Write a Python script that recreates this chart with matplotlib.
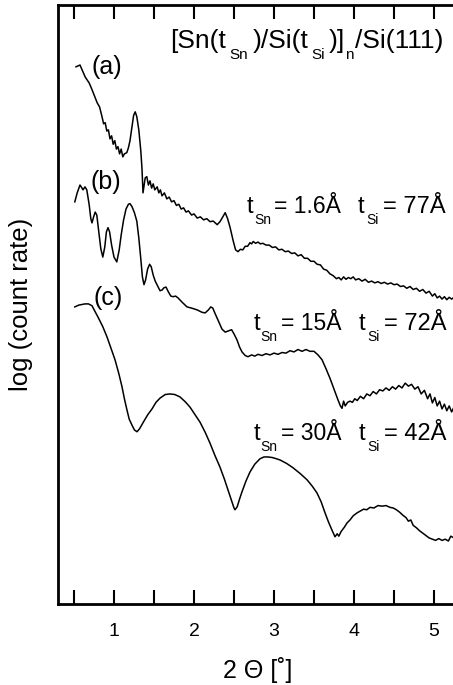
import numpy as np
import matplotlib
matplotlib.use("Agg")
import matplotlib.pyplot as plt
from matplotlib.transforms import offset_copy

plt.rcParams['font.family'] = ['Liberation Sans', 'DejaVu Sans']

# curve (a): tSn = 1.6 A, tSi = 77 A
a_x = [0.525, 0.575, 0.64, 0.69, 0.725, 0.76, 0.79, 0.82, 0.85, 0.87, 0.89, 0.91, 0.93,
       0.95, 0.97, 0.99, 1.01, 1.03, 1.05, 1.07, 1.09, 1.11, 1.13, 1.16, 1.18, 1.20,
       1.225, 1.245, 1.265, 1.285, 1.31, 1.335, 1.35, 1.3625, 1.39, 1.41, 1.43, 1.45,
       1.47, 1.49, 1.51, 1.54, 1.56, 1.58, 1.60, 1.63, 1.66, 1.69, 1.72, 1.75, 1.78,
       1.81, 1.84, 1.87, 1.90, 1.93, 1.97, 2.00, 2.04, 2.08, 2.12, 2.16, 2.20, 2.24,
       2.29, 2.325, 2.36, 2.39, 2.42, 2.45, 2.49, 2.52, 2.55, 2.58, 2.61, 2.64, 2.67,
       2.70, 2.72, 2.74, 2.77, 2.80, 2.83, 2.86, 2.90, 2.94, 2.98, 3.02, 3.06, 3.10,
       3.14, 3.18, 3.22, 3.26, 3.30, 3.34, 3.38, 3.42, 3.46, 3.50, 3.54, 3.58, 3.62,
       3.66, 3.70, 3.74, 3.78, 3.81, 3.84, 3.87, 3.90, 3.93, 3.96, 3.99, 4.02, 4.06,
       4.10, 4.14, 4.18, 4.22, 4.26, 4.30, 4.34, 4.38, 4.42, 4.46, 4.50, 4.54, 4.58,
       4.62, 4.66, 4.70, 4.74, 4.78, 4.82, 4.86, 4.90, 4.94, 4.98, 5.01, 5.04, 5.07,
       5.10, 5.13, 5.16, 5.19, 5.22, 5.25]
a_y = [8.95, 8.98, 8.78, 8.68, 8.57, 8.45, 8.35, 8.28, 8.12, 8.00, 8.02, 7.88, 7.90,
       7.75, 7.80, 7.66, 7.72, 7.58, 7.62, 7.50, 7.58, 7.45, 7.50, 7.52, 7.60, 7.72,
       7.95, 8.14, 8.20, 8.12, 7.90, 7.55, 7.25, 6.85, 7.10, 7.12, 6.98, 7.05,
       6.93, 7.00, 6.90, 6.95, 6.85, 6.90, 6.80, 6.85, 6.75, 6.78, 6.70, 6.72, 6.64,
       6.66, 6.58, 6.60, 6.53, 6.55, 6.48, 6.50, 6.43, 6.45, 6.40, 6.42, 6.37, 6.38,
       6.32, 6.37, 6.45, 6.52, 6.42, 6.28, 6.05, 5.90, 5.87, 5.91, 5.90, 5.96, 5.96,
       6.02, 6.00, 6.04, 6.01, 6.03, 6.00, 6.01, 5.98, 5.98, 5.94, 5.95, 5.90, 5.91,
       5.87, 5.88, 5.84, 5.85, 5.80, 5.82, 5.76, 5.76, 5.71, 5.71, 5.66, 5.65, 5.58,
       5.56, 5.50, 5.47, 5.42, 5.44, 5.40, 5.45, 5.41, 5.44, 5.42, 5.45, 5.40, 5.42,
       5.38, 5.41, 5.36, 5.38, 5.35, 5.37, 5.34, 5.36, 5.33, 5.35, 5.32, 5.33, 5.29,
       5.30, 5.26, 5.29, 5.24, 5.26, 5.21, 5.24, 5.18, 5.21, 5.13, 5.17, 5.10, 5.13,
       5.08, 5.12, 5.07, 5.11, 5.08, 5.11]

# curve (b): tSn = 15 A, tSi = 72 A
b_x = [0.51, 0.54, 0.575, 0.60, 0.6125, 0.6375, 0.66, 0.69, 0.71, 0.725, 0.745, 0.765,
       0.785, 0.81, 0.835, 0.86, 0.885, 0.905, 0.925, 0.945, 0.97, 1.00, 1.035, 1.065,
       1.09, 1.12, 1.15, 1.18, 1.20, 1.225, 1.255, 1.285, 1.31, 1.335, 1.355, 1.375,
       1.395, 1.42, 1.445, 1.465, 1.49, 1.515, 1.545, 1.575, 1.60, 1.625, 1.65, 1.68,
       1.71, 1.74, 1.77, 1.80, 1.85, 1.9125, 1.97, 2.04, 2.10, 2.14, 2.18, 2.21, 2.235,
       2.26, 2.30, 2.35, 2.39, 2.43, 2.47, 2.50, 2.5375, 2.57, 2.60, 2.64, 2.675, 2.72,
       2.76, 2.80, 2.85, 2.90, 2.95, 3.00, 3.05, 3.10, 3.15, 3.20, 3.25, 3.30, 3.35,
       3.40, 3.45, 3.50, 3.55, 3.60, 3.65, 3.70, 3.75, 3.80, 3.83, 3.85, 3.87, 3.89,
       3.92, 3.95, 3.98, 4.01, 4.04, 4.08, 4.12, 4.16, 4.20, 4.24, 4.28, 4.32, 4.36,
       4.40, 4.44, 4.48, 4.52, 4.56, 4.60, 4.64, 4.68, 4.72, 4.76, 4.80, 4.84, 4.88,
       4.92, 4.95, 4.98, 5.01, 5.04, 5.07, 5.10, 5.13, 5.16, 5.19, 5.22, 5.25]
b_y = [6.70, 6.85, 6.98, 6.93, 6.90, 6.95, 6.90, 6.65, 6.42, 6.35, 6.45, 6.53,
       6.48, 6.20, 5.92, 5.78, 5.95, 6.20, 6.27, 6.20, 5.98, 5.78, 5.70, 5.90,
       6.15, 6.40, 6.58, 6.66, 6.67, 6.62, 6.52, 6.38, 6.10, 5.75, 5.45, 5.32,
       5.40, 5.58, 5.66, 5.62, 5.48, 5.38, 5.30, 5.22, 5.23, 5.27, 5.28, 5.20,
       5.13, 5.12, 5.13, 5.10, 5.03, 4.95, 4.93, 4.90, 4.86, 4.85, 4.90, 4.95, 4.93,
       4.85, 4.73, 4.58, 4.53, 4.55, 4.57, 4.50, 4.40, 4.28, 4.20, 4.14, 4.12, 4.15,
       4.13, 4.16, 4.14, 4.17, 4.15, 4.18, 4.16, 4.19, 4.18, 4.22, 4.20, 4.24, 4.21,
       4.24, 4.21, 4.21, 4.15, 4.07, 3.92, 3.76, 3.58, 3.40, 3.30, 3.26, 3.38, 3.30,
       3.36, 3.38, 3.36, 3.42, 3.39, 3.46, 3.42, 3.50, 3.47, 3.54, 3.50, 3.57, 3.55,
       3.60, 3.56, 3.62, 3.58, 3.64, 3.60, 3.68, 3.63, 3.66, 3.58, 3.62, 3.50, 3.56,
       3.42, 3.50, 3.35, 3.44, 3.30, 3.38, 3.25, 3.33, 3.22, 3.30, 3.20, 3.28]

# curve (c): tSn = 30 A, tSi = 42 A
c_x = [0.51, 0.56, 0.6375, 0.68, 0.725, 0.76, 0.80, 0.86, 0.9125, 0.96, 1.0125, 1.06,
       1.10, 1.13, 1.1625, 1.19, 1.225, 1.255, 1.2875, 1.32, 1.3625, 1.42, 1.475, 1.525,
       1.575, 1.64, 1.70, 1.76, 1.825, 1.89, 1.95, 2.01, 2.075, 2.14, 2.20, 2.26, 2.325,
       2.38, 2.425, 2.465, 2.50, 2.5125, 2.54, 2.57, 2.60, 2.65, 2.70, 2.76, 2.825,
       2.875, 2.925, 2.98, 3.03, 3.075, 3.16, 3.2375, 3.33, 3.4125, 3.48, 3.5375, 3.59,
       3.6375, 3.68, 3.725, 3.7625, 3.79, 3.81, 3.84, 3.88, 3.9125, 3.95, 3.99, 4.04,
       4.08, 4.12, 4.16, 4.20, 4.25, 4.30, 4.35, 4.40, 4.45, 4.49, 4.53, 4.57, 4.61,
       4.65, 4.68, 4.71, 4.74, 4.78, 4.82, 4.86, 4.90, 4.94, 4.98, 5.02, 5.06, 5.10,
       5.14, 5.18, 5.21, 5.25]
c_y = [4.95, 4.98, 5.00, 5.00, 4.97, 4.88, 4.78, 4.62, 4.45, 4.27, 4.07, 3.84,
       3.62, 3.42, 3.23, 3.08, 2.98, 2.90, 2.87, 2.92, 3.02, 3.15, 3.25, 3.36,
       3.43, 3.49, 3.50, 3.49, 3.45, 3.37, 3.28, 3.16, 3.03, 2.86, 2.68, 2.48, 2.28,
       2.08, 1.90, 1.74, 1.60, 1.57, 1.62, 1.75, 1.87, 2.05, 2.20, 2.33, 2.42,
       2.45, 2.45, 2.44, 2.42, 2.40, 2.34, 2.27, 2.17, 2.07, 1.96, 1.85, 1.70,
       1.52, 1.37, 1.23, 1.12, 1.17, 1.13, 1.21, 1.28, 1.35, 1.40, 1.47, 1.52,
       1.55, 1.58, 1.57, 1.61, 1.60, 1.64, 1.63, 1.64, 1.61, 1.60, 1.57, 1.53, 1.48,
       1.44, 1.38, 1.40, 1.31, 1.27, 1.22, 1.18, 1.14, 1.10, 1.08, 1.06, 1.09, 1.06,
       1.08, 1.05, 1.13, 1.10]

fig = plt.figure(figsize=(4.53, 6.85), dpi=100)
ax = fig.add_axes([58/453, 81/685, 400/453, 599/685])

for xs, ys in [(a_x, a_y), (b_x, b_y), (c_x, c_y)]:
    ax.plot(xs, ys, color='black', lw=1.1)

ax.set_xlim(0.3, 5.3)
ax.set_ylim(0, 9.98)

ticks = np.arange(0.5, 5.01, 0.5)
ax.set_xticks(ticks)
ax.set_xticklabels([str(int(t)) if t == int(t) else '' for t in ticks], fontsize=14)
ax.tick_params(axis='x', top=True, direction='in', length=10, width=1.5, pad=14)
ax.set_yticks([])
for s in ax.spines.values():
    s.set_linewidth(2)

ax.set_xlabel('2 \u0398 [\u02da]', fontsize=18, labelpad=12)
ax.set_ylabel('log (count rate)', fontsize=18.5, labelpad=18)

renderer = fig.canvas.get_renderer()


def chain(x0, y0, pieces):
    # pieces: (text, fontsize, vertical shift in px, gap after in px)
    dx = 0
    for txt, size, dy, gap in pieces:
        tr = offset_copy(ax.transData, fig=fig, x=dx, y=dy, units='dots')
        t = ax.text(x0, y0, txt, fontsize=size, va='baseline', transform=tr)
        dx += t.get_window_extent(renderer).width + gap


chain(1.70, 9.27, [('[Sn(t', 19, 0, 3), ('Sn', 11, -11, 5), (')/Si(t', 19, 0, 3),
                   ('Si', 11, -11, 4), (')]', 19, 0, 0), ('n', 11, -11, 1),
                   ('/Si(111)', 19, 0, 0)])

ax.text(0.9125, 8.95, '(a)', fontsize=18, ha='center', va='center')
ax.text(0.90, 7.03, '(b)', fontsize=18, ha='center', va='center')
ax.text(0.925, 5.10, '(c)', fontsize=18, ha='center', va='center')

rows = [(6.52, 2.66, 4.05, '= 1.6\u00c5', '= 77\u00c5'),
        (4.57, 2.74, 4.06, '= 15\u00c5', '= 72\u00c5'),
        (2.73, 2.74, 4.06, '= 30\u00c5', '= 42\u00c5')]
for yb, x1, x2, sn_txt, si_txt in rows:
    chain(x1, yb, [('t', 17, 0, 1), ('Sn', 10, -11, 3), (sn_txt, 16.5, 0, 0)])
    chain(x2, yb, [('t', 17, 0, 2), ('Si', 10, -11, 4), (si_txt, 17, 0, 0)])

fig.savefig('out.png', dpi=100)
